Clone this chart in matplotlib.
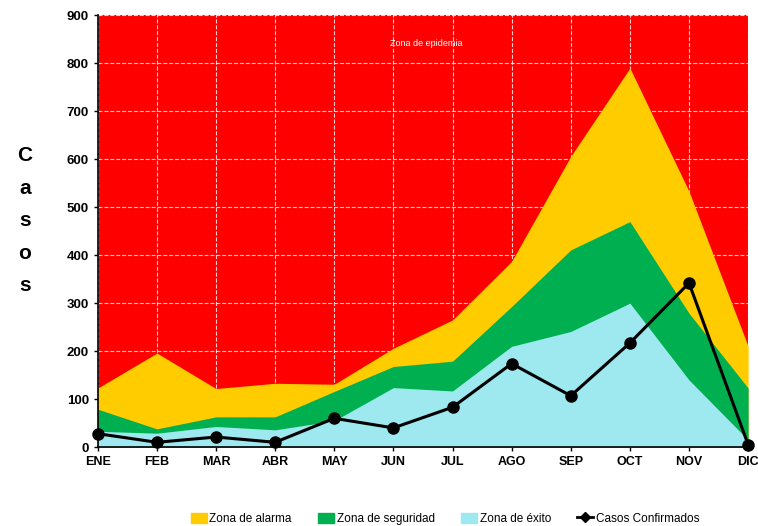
import matplotlib
matplotlib.use("Agg")
import matplotlib.pyplot as plt
from matplotlib.lines import Line2D
from matplotlib.patches import Patch

months = ["ENE", "FEB", "MAR", "ABR", "MAY", "JUN", "JUL", "AGO", "SEP", "OCT", "NOV", "DIC"]
alarma = [123, 196, 122, 133, 131, 206, 265, 387, 606, 790, 533, 210]
seguridad = [79, 38, 63, 63, 116, 168, 179, 293, 411, 470, 279, 123]
exito = [33, 29, 43, 36, 55, 124, 117, 210, 241, 300, 140, 15]
casos = [28, 10, 21, 10, 60, 40, 83, 174, 107, 217, 342, 5]
y_ticks = [0, 100, 200, 300, 400, 500, 600, 700, 800, 900]

plt.rcParams["font.family"] = ["Liberation Sans", "DejaVu Sans"]

fig = plt.figure(figsize=(7.58, 5.26), dpi=100)
ax = fig.add_axes([0.129, 0.150, 0.858, 0.821])
ax.set_facecolor("#FF0000")

x = list(range(len(months)))
ax.fill_between(x, 0, alarma, color="#FFCC00", linewidth=0, zorder=2)
ax.fill_between(x, 0, seguridad, color="#00B050", linewidth=0, zorder=3)
ax.fill_between(x, 0, exito, color="#9EE8F0", linewidth=0, zorder=4)
ax.plot(x, casos, color="black", linewidth=2.2, marker="o", markersize=8,
        clip_on=False, zorder=5)

ax.set_xlim(0, len(months) - 1)
ax.set_ylim(0, 900)
ax.set_xticks(x)
ax.set_xticklabels(months, fontsize=9, fontweight="bold")
ax.set_yticks(y_ticks)
ax.set_yticklabels([str(v) for v in y_ticks], fontsize=9.5, fontweight="bold")
ax.grid(True, color="white", linestyle="--", linewidth=0.8, alpha=0.8, zorder=1)
ax.set_axisbelow(True)
ax.tick_params(axis="both", length=3, width=1, color="black")
for side in ["top", "right"]:
    ax.spines[side].set_visible(False)
for side in ["left", "bottom"]:
    ax.spines[side].set_color("black")
    ax.spines[side].set_linewidth(1.2)
    ax.spines[side].set_zorder(6)

ax.text(5.55, 842, "Zona de epidemia", color="white", fontsize=6.5, ha="center", va="center")

# vertical stacked axis title
fig.text(0.033, 0.722, "C\na\ns\no\ns", fontsize=15, fontweight="bold",
         ha="center", va="top", linespacing=1.9)

handles = [
    Patch(color="#FFCC00", label="Zona de alarma"),
    Patch(color="#00B050", label="Zona de seguridad"),
    Patch(color="#9EE8F0", label="Zona de éxito"),
    Line2D([0], [0], color="black", linewidth=2, marker="D", markersize=5, label="Casos Confirmados"),
]
fig.legend(handles=handles, loc="lower center", ncol=4, frameon=False, fontsize=8.5,
           bbox_to_anchor=(0.587, -0.018), handlelength=1.4, handletextpad=0.2,
           columnspacing=2.2, handleheight=0.9)

fig.savefig("out.png", dpi=100)
